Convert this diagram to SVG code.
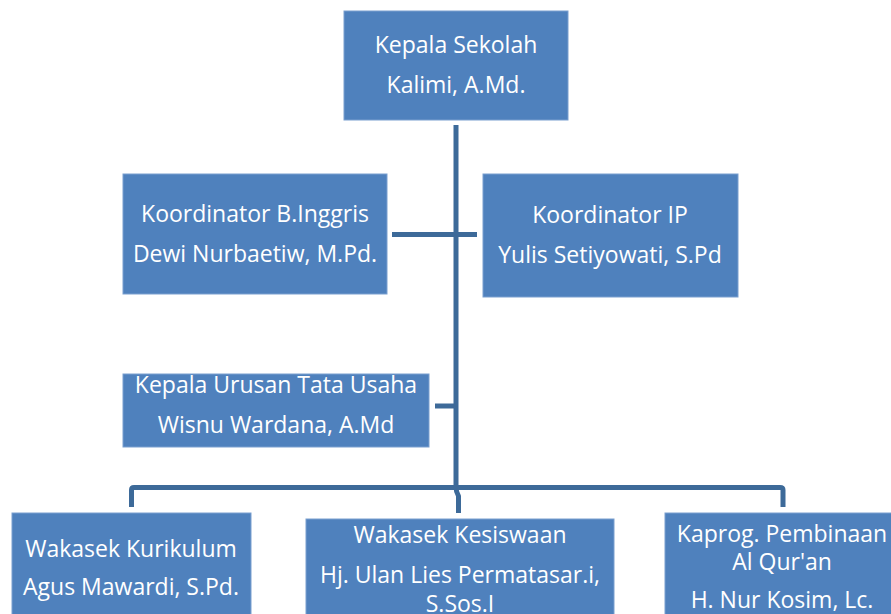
<svg xmlns="http://www.w3.org/2000/svg" width="891" height="614" viewBox="0 0 891 614">
<style>
.box{fill:#4F81BD;stroke:#7A9FCF;stroke-width:1}
.t{font-family:"Open Sans","Liberation Sans",sans-serif;font-size:23px;fill:#FFFFFF;text-anchor:middle}
.c{fill:none;stroke:#3D6A99;stroke-width:5;stroke-linejoin:round}
</style>
<rect width="891" height="614" fill="#FFFFFF"/>
<g id="connectors">
<path class="c" d="M456,125 V487"/>
<path class="c" d="M392,234.5 H477"/>
<path class="c" d="M435,406 H456"/>
<path class="c" d="M131.5,507 V490 Q131.5,487.5 134,487.5 H780 Q783,487.5 783,490 V507"/>
<path class="c" d="M456,487 Q456,492 458.5,496 V513"/>
</g>
<g id="kepala-sekolah">
<rect class="box" x="344" y="11" width="224" height="109"/>
<text class="t" x="456" y="53">Kepala Sekolah</text>
<text class="t" x="456" y="93">Kalimi, A.Md.</text>
</g>
<g id="koordinator-binggris">
<rect class="box" x="123" y="174" width="264" height="120"/>
<text class="t" x="255" y="222">Koordinator B.Inggris</text>
<text class="t" x="255" y="262">Dewi Nurbaetiw, M.Pd.</text>
</g>
<g id="koordinator-ip">
<rect class="box" x="483" y="174" width="255" height="123"/>
<text class="t" x="610" y="223">Koordinator IP</text>
<text class="t" x="610" y="263">Yulis Setiyowati, S.Pd</text>
</g>
<g id="kepala-tu">
<rect class="box" x="123" y="374" width="306" height="73"/>
<text class="t" x="276" y="393">Kepala Urusan Tata Usaha</text>
<text class="t" x="276" y="433">Wisnu Wardana, A.Md</text>
</g>
<g id="wakasek-kurikulum">
<rect class="box" x="12" y="513" width="239" height="110"/>
<text class="t" x="131" y="557">Wakasek Kurikulum</text>
<text class="t" x="131" y="595">Agus Mawardi, S.Pd.</text>
</g>
<g id="wakasek-kesiswaan">
<rect class="box" x="306" y="519" width="308" height="110"/>
<text class="t" x="460" y="543">Wakasek Kesiswaan</text>
<text class="t" x="460" y="583">Hj. Ulan Lies Permatasar.i,</text>
<text class="t" x="460" y="612">S.Sos.I</text>
</g>
<g id="kaprog">
<rect class="box" x="665" y="513" width="240" height="110"/>
<text class="t" x="782" y="542">Kaprog. Pembinaan</text>
<text class="t" x="782" y="570">Al Qur'an</text>
<text class="t" x="782" y="608">H. Nur Kosim, Lc.</text>
</g>
</svg>
